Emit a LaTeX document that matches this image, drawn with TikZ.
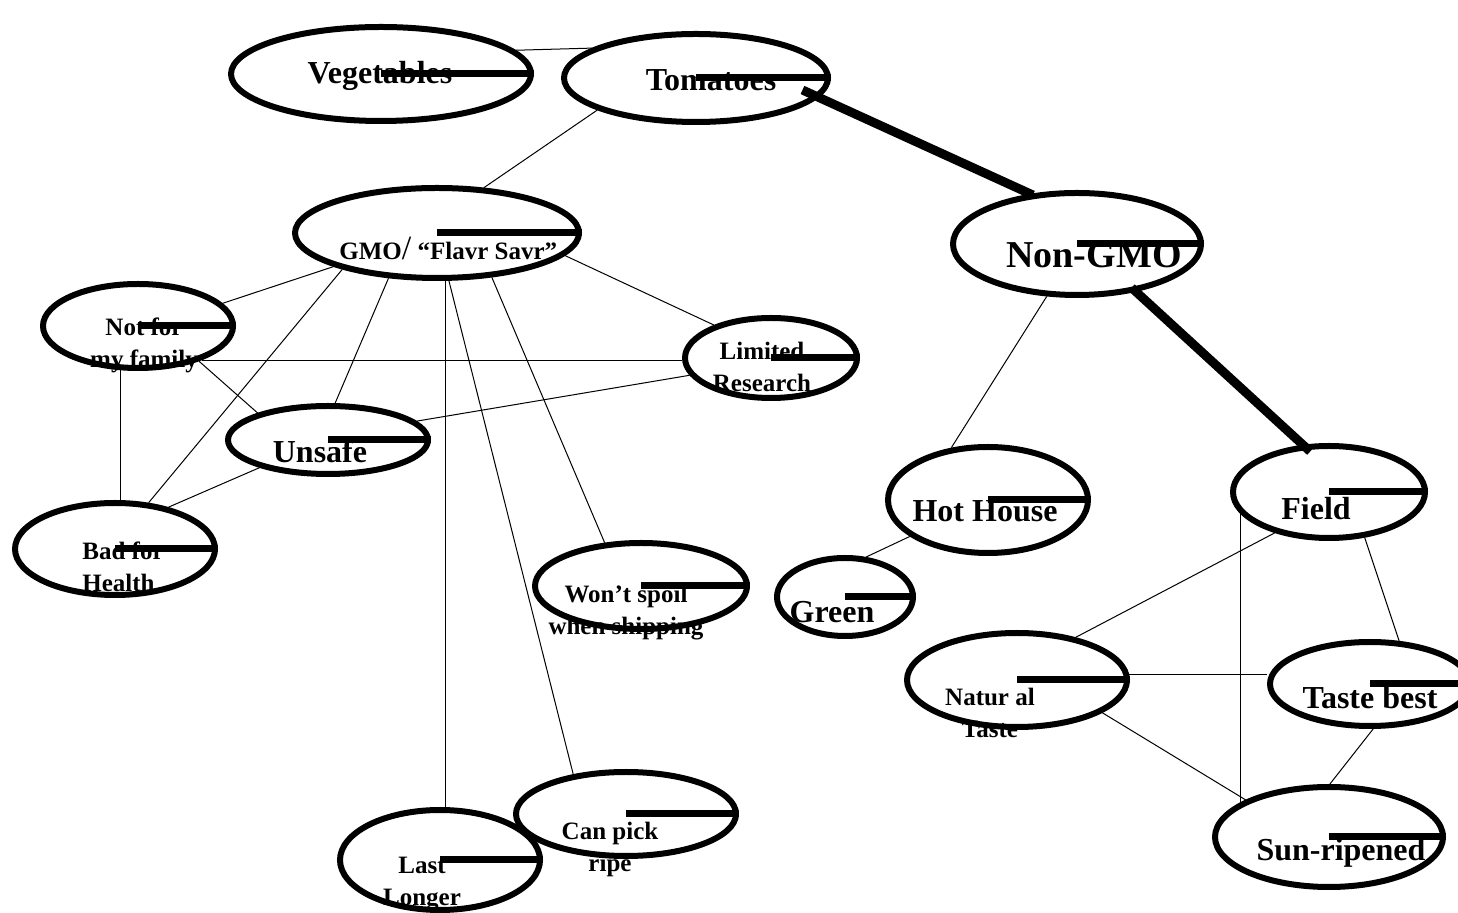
\documentclass[tikz,border=0pt]{standalone}
\usepackage{fontspec}
\setmainfont{Liberation Serif}
\usetikzlibrary{shapes.geometric}
\tikzset{
  bubble/.style={ellipse, draw, line width=3pt, inner sep=0pt},
  hand/.style={line width=3.5pt},
  thinline/.style={line width=0.5pt},
  heavyline/.style={line width=4.5pt},
  bigword/.style={font=\bfseries\fontsize{16}{19}\selectfont, anchor=base, inner sep=0pt},
  smallword/.style={font=\bfseries\fontsize{12.5}{16}\selectfont, align=center, anchor=base, inner sep=0pt}
}
\begin{document}
\begin{tikzpicture}[x=0.5pt, y=-0.5pt]
  \useasboundingbox (0,0) rectangle (1458,913);
  % words first, the ellipses and hands go over them
  \node[bigword] (vegword) at (380,84) {Vegetables};
  \node[bigword] (tomword) at (711,91) {Tomatoes};
  \node[smallword, anchor=base west] (gmoword) at (339,260) {GMO{\mdseries\fontsize{17}{17}\selectfont/} “Flavr Savr”};
  \node[bigword, font=\bfseries\fontsize{19}{22}\selectfont] (nonword) at (1094,268) {Non-GMO};
  \node[smallword] (notforword) at (144,368) {Not for\\my family};
  \node[smallword] (limitedword) at (762,392) {Limited\\Research};
  \node[bigword] (unsafeword) at (320,463) {Unsafe};
  \node[smallword, align=left, anchor=base west] (badword) at (82,592) {Bad for\\Health};
  \node[smallword] (wontword) at (626,635) {Won’t spoil\\when shipping};
  \node[bigword] (greenword) at (832,623) {Green};
  \node[bigword] (hhword) at (985,522) {Hot House};
  \node[bigword] (fieldword) at (1316,520) {Field};
  \node[smallword] (ntword) at (990,738) {Natur al\\Taste};
  \node[bigword] (tbword) at (1370,709) {Taste best};
  \node[bigword] (sunword) at (1341,861) {Sun-ripened};
  \node[smallword] (lastword) at (422,906) {Last\\Longer};
  \node[smallword] (pickword) at (610,872) {Can pick\\ripe};

  % ellipses
  \node[bubble, minimum width=150pt, minimum height=47pt] (veg) at (381,74) {};
  \node[bubble, minimum width=132pt, minimum height=44pt] (tom) at (696,78) {};
  \node[bubble, minimum width=142pt, minimum height=45pt] (gmo) at (437,233) {};
  \node[bubble, minimum width=124pt, minimum height=51pt] (non) at (1077,244) {};
  \node[bubble, minimum width=95pt, minimum height=42pt] (notfor) at (138,326) {};
  \node[bubble, minimum width=86pt, minimum height=40pt] (limited) at (771,358) {};
  \node[bubble, minimum width=100pt, minimum height=34pt] (unsafe) at (328,440) {};
  \node[bubble, minimum width=100pt, minimum height=46pt] (bad) at (115,549) {};
  \node[bubble, minimum width=106pt, minimum height=43pt] (wont) at (641,586) {};
  \node[bubble, minimum width=68pt, minimum height=39pt] (green) at (845,597) {};
  \node[bubble, minimum width=100pt, minimum height=53pt] (hh) at (988,500) {};
  \node[bubble, minimum width=96pt, minimum height=46pt] (field) at (1329,492) {};
  \node[bubble, minimum width=110pt, minimum height=47pt] (nt) at (1017,680) {};
  \node[bubble, minimum width=100pt, minimum height=42pt] (tb) at (1370,684) {};
  \node[bubble, minimum width=114pt, minimum height=50pt] (sun) at (1329,837) {};
  \node[bubble, minimum width=100pt, minimum height=50pt] (last) at (440,860) {};
  \node[bubble, minimum width=110pt, minimum height=42pt] (pick) at (626,814) {};

  \foreach \n in {veg,tom,gmo,non,notfor,limited,unsafe,bad,wont,green,hh,field,nt,tb,sun,last,pick}
    \draw[hand] (\n.center) -- (\n.east);

  % heavy branch
  \draw[heavyline, shorten <=-9pt, shorten >=-1.5pt] (tom.-9) -- (non.133);
  \draw[heavyline, shorten <=-3pt, shorten >=-5pt] (non.-39) -- (field.119);

  % thin links
  \draw[thinline] (veg.10) -- (tom.164);
  \draw[thinline] (tom.198) -- (gmo.44);
  \draw[thinline] (gmo.198) -- (notfor.15);
  \draw[thinline] (gmo.201) -- (bad.54);
  \draw[thinline] (gmo.223) -- (unsafe.79);
  \draw[thinline] (gmo.-80) -- (gmo.-80 |- last.north);
  \draw[thinline] (gmo.-76) -- (pick.143);
  \draw[thinline] (gmo.-39) -- (wont.130);
  \draw[thinline] (gmo.-10) -- (limited.150);
  \draw[thinline] (notfor.-28) -- (notfor.-28 -| limited.west);
  \draw[thinline] (notfor.-30) -- (unsafe.159);
  \draw[thinline] (notfor.-112) -- (notfor.-112 |- bad.north);
  \draw[thinline] (limited.192) -- (unsafe.12);
  \draw[thinline] (unsafe.202) -- (bad.38);
  \draw[thinline] (non.-120) -- (hh.125);
  \draw[thinline] (hh.205) -- (green.62);
  \draw[thinline] (field.217) -- (nt.36);
  \draw[thinline] (field.194) -- (field.194 |- sun.164);
  \draw[thinline] (field.-52) -- (tb.56);
  \draw[thinline] (nt.3) -- (nt.3 -| tb.west);
  \draw[thinline] (nt.-21) -- (sun.156);
  \draw[thinline] (tb.-86) -- (sun.89);
\end{tikzpicture}
\end{document}
